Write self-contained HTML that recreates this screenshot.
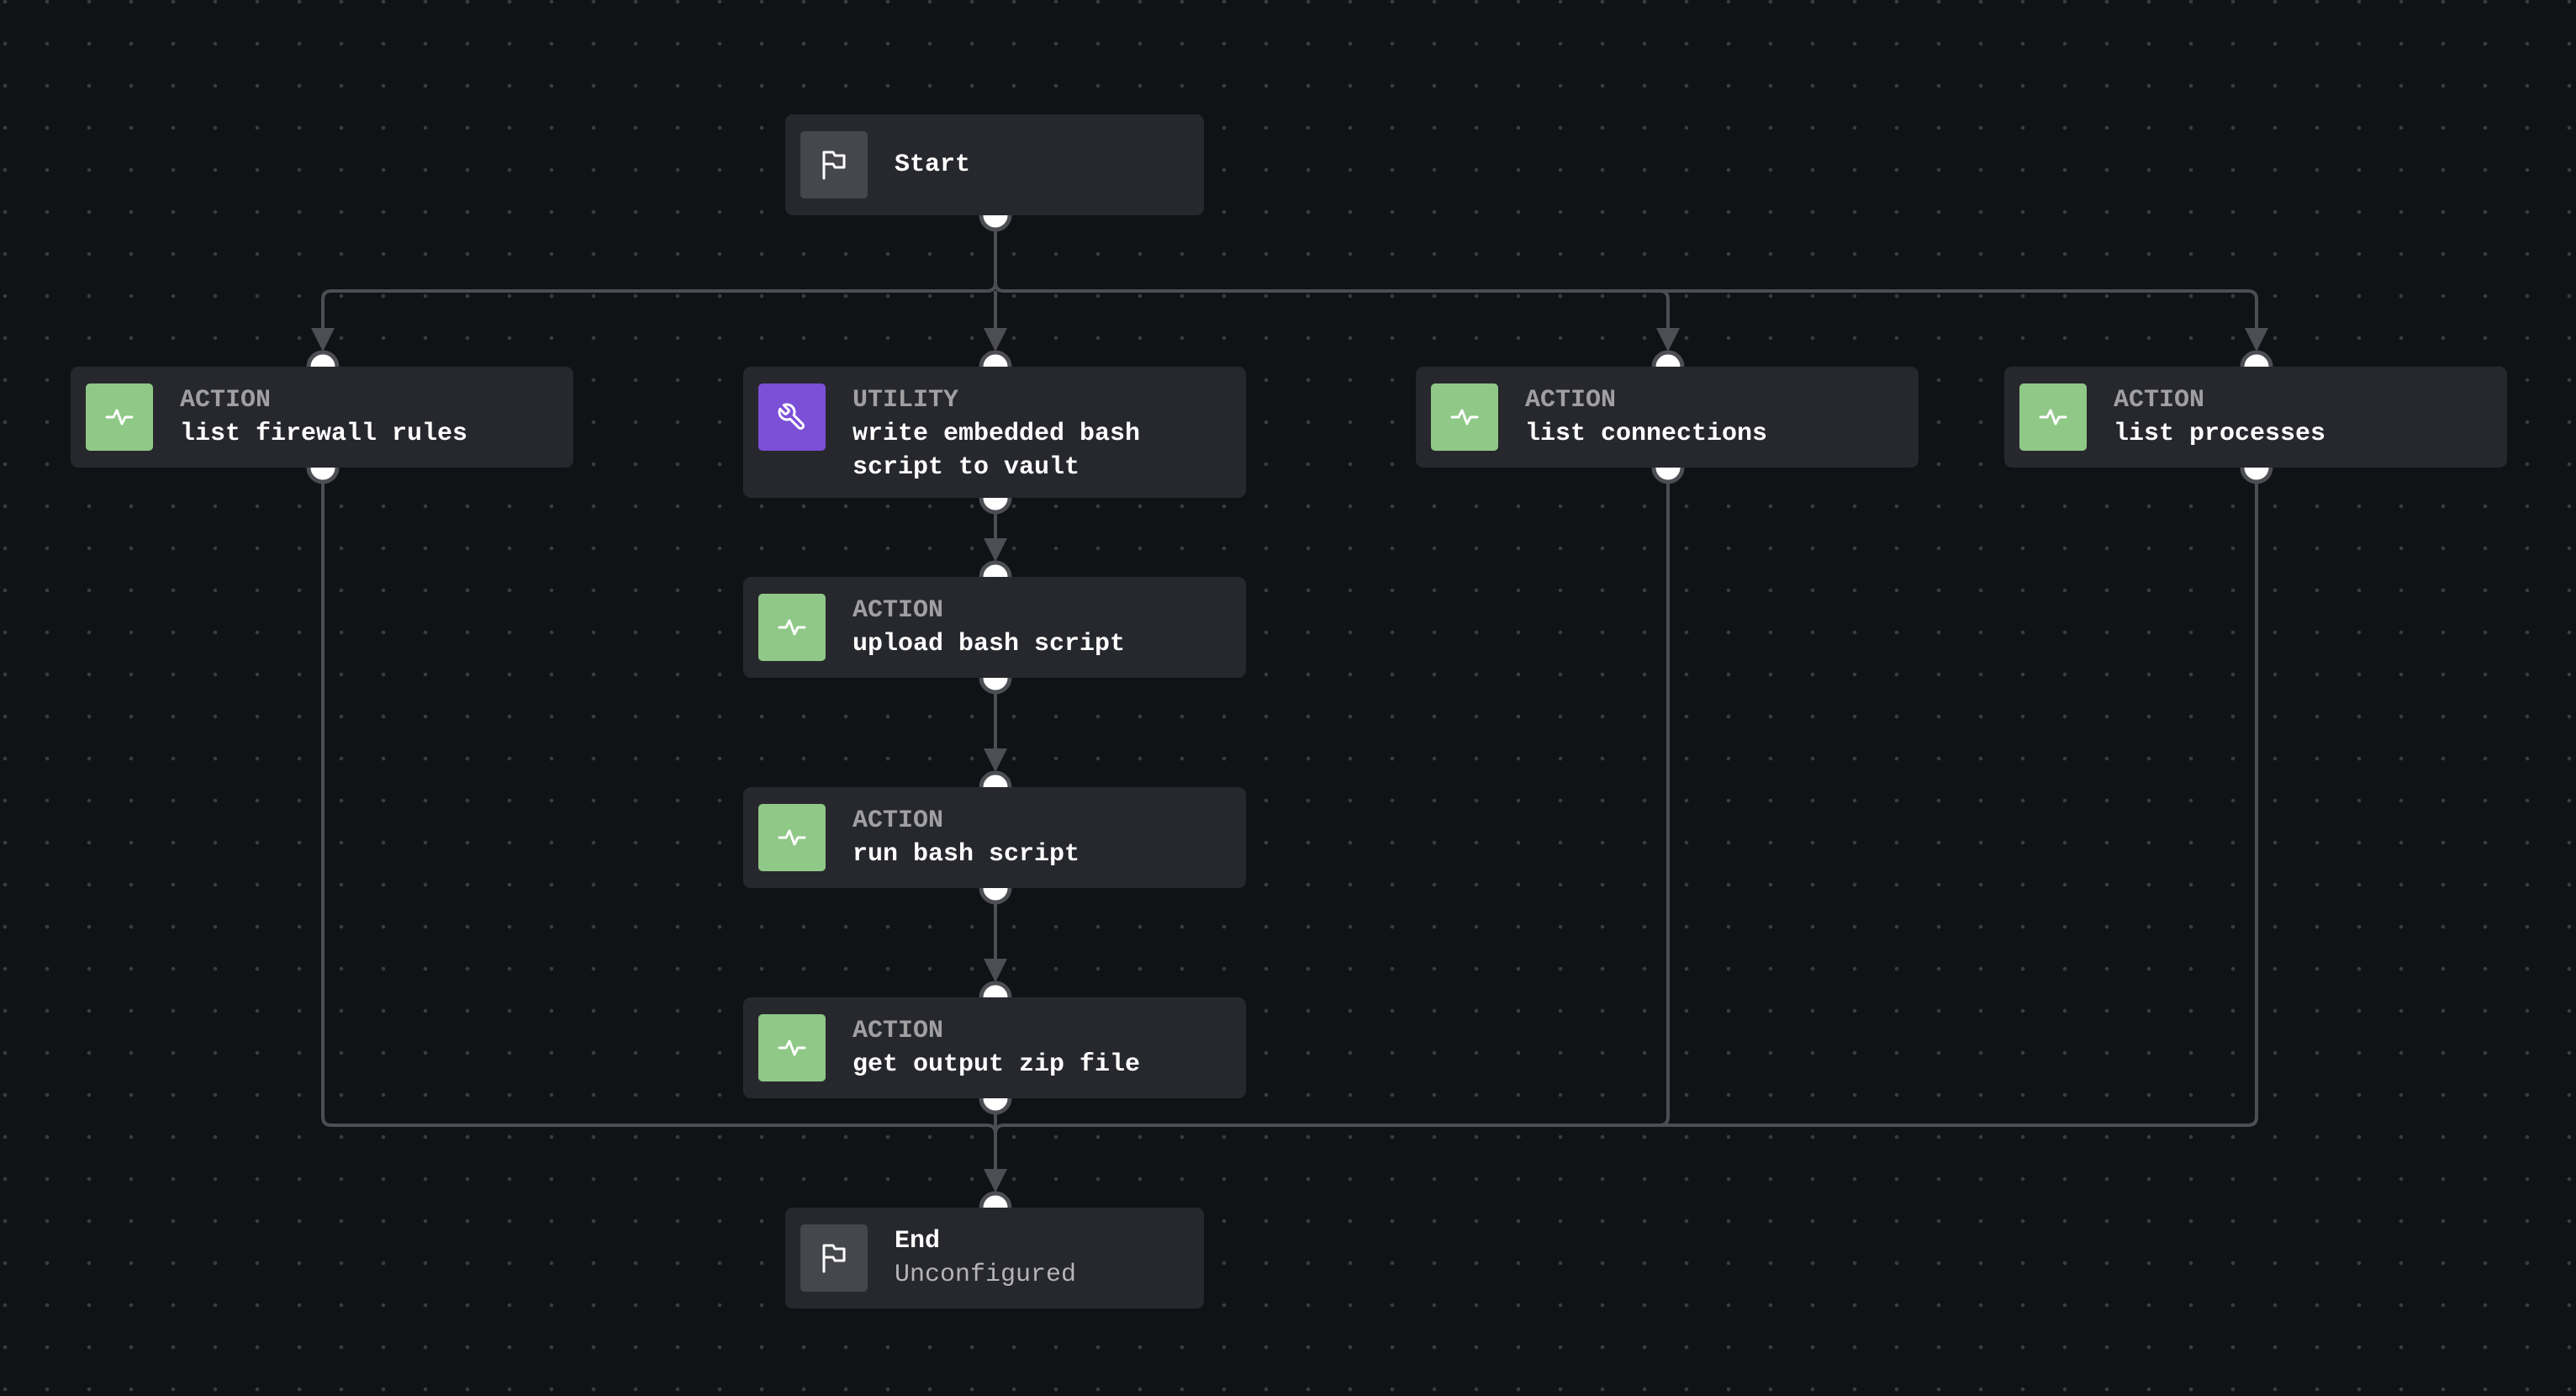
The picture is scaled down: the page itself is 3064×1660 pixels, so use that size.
<!DOCTYPE html>
<html><head><meta charset="utf-8"><style>
html,body{margin:0;padding:0}
body{width:3064px;height:1660px;position:relative;overflow:hidden;background-color:#111216;
background-image:radial-gradient(circle,#3a3b41 2px,transparent 2.6px);background-size:50px 50px;background-position:-19px -23px;
font-family:"Liberation Mono",monospace;}
.n{position:absolute;width:598px;background:#27282d;border-radius:9px;box-sizing:border-box;}
.ic{position:absolute;left:18px;top:20px;width:80px;height:80px;border-radius:5px;display:flex;align-items:center;justify-content:center}
.g{background:#8fc887}.p{background:#7b4fd6}.s{background:#46474c}
.t{position:absolute;left:130px;top:20px;font-size:30px;line-height:40px;color:#fff;font-weight:bold;white-space:nowrap}
.k{color:#a0a0a3}
.u{color:#b5b5b8;font-weight:normal}
svg.e{position:absolute;left:0;top:0}
</style></head><body>
<svg class="e" width="3064" height="1660">
<g fill="none" stroke="#4d4e54" stroke-width="4">
<path d="M1184,256 V336 Q1184,346 1174,346 H394 Q384,346 384,356 V400"/>
<path d="M1184,336 Q1184,346 1194,346 H1974 Q1984,346 1984,356 V400"/>
<path d="M1974,346 H2674 Q2684,346 2684,356 V400"/>
<path d="M1184,346 V400"/>
<path d="M1184,592 V650"/>
<path d="M1184,806 V900"/>
<path d="M1184,1056 V1150"/>
<path d="M1184,1306 V1400"/>
<path d="M384,556 V1328 Q384,1338 394,1338 H1174 Q1184,1338 1184,1348"/>
<path d="M1984,556 V1328 Q1984,1338 1974,1338 H1194 Q1184,1338 1184,1348"/>
<path d="M2684,556 V1328 Q2684,1338 2674,1338 H1194"/>
</g>
<g fill="#fff" stroke="#4d4e54" stroke-width="5">
<circle cx="1184" cy="256" r="17"/>
<circle cx="384" cy="436" r="17"/><circle cx="384" cy="556" r="17"/>
<circle cx="1184" cy="436" r="17"/><circle cx="1184" cy="592" r="17"/>
<circle cx="1984" cy="436" r="17"/><circle cx="1984" cy="556" r="17"/>
<circle cx="2684" cy="436" r="17"/><circle cx="2684" cy="556" r="17"/>
<circle cx="1184" cy="686" r="17"/><circle cx="1184" cy="806" r="17"/>
<circle cx="1184" cy="936" r="17"/><circle cx="1184" cy="1056" r="17"/>
<circle cx="1184" cy="1186" r="17"/><circle cx="1184" cy="1306" r="17"/>
<circle cx="1184" cy="1436" r="17"/>
</g>
<g fill="#4d4e54">
<polygon points="370,390 398,390 384,418"/>
<polygon points="1170,390 1198,390 1184,418"/>
<polygon points="1970,390 1998,390 1984,418"/>
<polygon points="2670,390 2698,390 2684,418"/>
<polygon points="1170,640 1198,640 1184,668"/>
<polygon points="1170,890 1198,890 1184,918"/>
<polygon points="1170,1140 1198,1140 1184,1168"/>
<polygon points="1170,1390 1198,1390 1184,1418"/>
</g>
</svg>

<div class="n" style="left:934px;top:136px;width:498px;height:120px"><div class="ic s"><svg width="32" height="36" viewBox="0 0 32 36" fill="none" stroke="#fff" stroke-width="3" stroke-linejoin="round" stroke-linecap="round"><path d="M4,34 V3 H15 L17,7 H28 V21 H17 L15,17 H4"/></svg></div><div class="t" style="top:40px">Start</div></div>

<div class="n" style="left:84px;top:436px;height:120px"><div class="ic g"><svg width="34" height="20" viewBox="0 0 34 20" fill="none" stroke="#fff" stroke-width="3" stroke-linecap="round" stroke-linejoin="round"><path d="M2,10 H10 L14,2 L20,18 L24,10 H32"/></svg></div><div class="t"><span class="k">ACTION</span><br>list firewall rules</div></div>

<div class="n" style="left:884px;top:436px;height:156px"><div class="ic p"><svg width="36" height="36" viewBox="0 0 24 24" fill="none" stroke="#fff" stroke-width="2" stroke-linejoin="round"><path d="M14.7 6.3a1 1 0 0 0 0 1.4l1.6 1.6a1 1 0 0 0 1.4 0l3.770-3.770a6 6 0 0 1-7.940 7.940l-6.910 6.910a2.120 2.120 0 0 1-3-3l6.910-6.910a6 6 0 0 1 7.940-7.940l-3.760 3.760z" transform="scale(-1,1) translate(-24,0)"/></svg></div><div class="t"><span class="k">UTILITY</span><br>write embedded bash<br>script to vault</div></div>

<div class="n" style="left:1684px;top:436px;height:120px"><div class="ic g"><svg width="34" height="20" viewBox="0 0 34 20" fill="none" stroke="#fff" stroke-width="3" stroke-linecap="round" stroke-linejoin="round"><path d="M2,10 H10 L14,2 L20,18 L24,10 H32"/></svg></div><div class="t"><span class="k">ACTION</span><br>list connections</div></div>

<div class="n" style="left:2384px;top:436px;height:120px"><div class="ic g"><svg width="34" height="20" viewBox="0 0 34 20" fill="none" stroke="#fff" stroke-width="3" stroke-linecap="round" stroke-linejoin="round"><path d="M2,10 H10 L14,2 L20,18 L24,10 H32"/></svg></div><div class="t"><span class="k">ACTION</span><br>list processes</div></div>

<div class="n" style="left:884px;top:686px;height:120px"><div class="ic g"><svg width="34" height="20" viewBox="0 0 34 20" fill="none" stroke="#fff" stroke-width="3" stroke-linecap="round" stroke-linejoin="round"><path d="M2,10 H10 L14,2 L20,18 L24,10 H32"/></svg></div><div class="t"><span class="k">ACTION</span><br>upload bash script</div></div>

<div class="n" style="left:884px;top:936px;height:120px"><div class="ic g"><svg width="34" height="20" viewBox="0 0 34 20" fill="none" stroke="#fff" stroke-width="3" stroke-linecap="round" stroke-linejoin="round"><path d="M2,10 H10 L14,2 L20,18 L24,10 H32"/></svg></div><div class="t"><span class="k">ACTION</span><br>run bash script</div></div>

<div class="n" style="left:884px;top:1186px;height:120px"><div class="ic g"><svg width="34" height="20" viewBox="0 0 34 20" fill="none" stroke="#fff" stroke-width="3" stroke-linecap="round" stroke-linejoin="round"><path d="M2,10 H10 L14,2 L20,18 L24,10 H32"/></svg></div><div class="t"><span class="k">ACTION</span><br>get output zip file</div></div>

<div class="n" style="left:934px;top:1436px;width:498px;height:120px"><div class="ic s"><svg width="32" height="36" viewBox="0 0 32 36" fill="none" stroke="#fff" stroke-width="3" stroke-linejoin="round" stroke-linecap="round"><path d="M4,34 V3 H15 L17,7 H28 V21 H17 L15,17 H4"/></svg></div><div class="t">End<br><span class="u">Unconfigured</span></div></div>
</body></html>
